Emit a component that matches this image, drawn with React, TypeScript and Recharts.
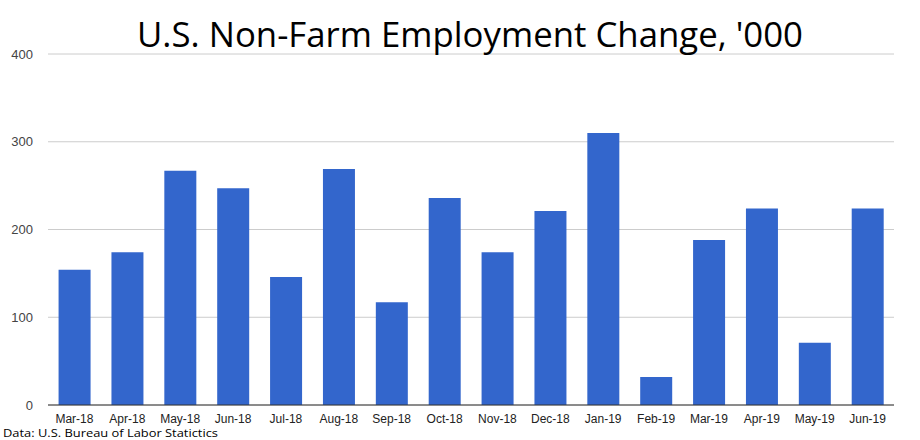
import { Bar, BarChart, CartesianGrid, XAxis, YAxis } from 'recharts';

const months = [
  'Mar-18', 'Apr-18', 'May-18', 'Jun-18', 'Jul-18', 'Aug-18', 'Sep-18', 'Oct-18',
  'Nov-18', 'Dec-18', 'Jan-19', 'Feb-19', 'Mar-19', 'Apr-19', 'May-19', 'Jun-19',
];
const jobsAdded = [154, 174, 267, 247, 146, 269, 117, 236, 174, 221, 310, 32, 188, 224, 71, 224];
const yTicks = [0, 100, 200, 300, 400];

const data = months.map((month, i) => ({ month, jobs: jobsAdded[i] }));

const titleFont = '"Open Sans", "Noto Sans", sans-serif';

export default function App() {
  return (
    <div style={{ position: 'absolute', left: 0, top: 0, width: 920, height: 440, background: '#fff' }}>
      <BarChart
        width={920}
        height={440}
        data={data}
        margin={{ top: 54, right: 26, bottom: 15, left: 0 }}
        barCategoryGap="20%"
      >
        <CartesianGrid stroke="#cccccc" vertical={false} />
        <XAxis
          dataKey="month"
          height={20}
          axisLine={{ stroke: '#333333' }}
          tickLine={false}
          tickSize={0}
          tickMargin={9}
          interval={0}
          tick={{ fontSize: 12, fill: '#222222', fontFamily: 'Arial, "Liberation Sans", sans-serif' }}
        />
        <YAxis
          width={48}
          domain={[0, 400]}
          ticks={yTicks}
          axisLine={false}
          tickLine={false}
          tickSize={0}
          tickMargin={15}
          tick={{ fontSize: 13, fill: '#444444', fontFamily: 'Arial, "Liberation Sans", sans-serif' }}
        />
        <Bar dataKey="jobs" fill="#3366cc" isAnimationActive={false} />
      </BarChart>
      <svg
        width={920}
        height={440}
        style={{ position: 'absolute', left: 0, top: 0, pointerEvents: 'none' }}
      >
        <text
          x={137}
          y={47}
          fontSize={34}
          fontFamily={titleFont}
          fill="#000000"
          textLength={666}
          lengthAdjust="spacingAndGlyphs"
        >
          U.S. Non-Farm Employment Change, '000
        </text>
        <text
          x={3}
          y={437}
          fontSize={11.5}
          fontFamily={titleFont}
          fill="#000000"
          textLength={215}
          lengthAdjust="spacingAndGlyphs"
        >
          Data: U.S. Bureau of Labor Statictics
        </text>
      </svg>
    </div>
  );
}
